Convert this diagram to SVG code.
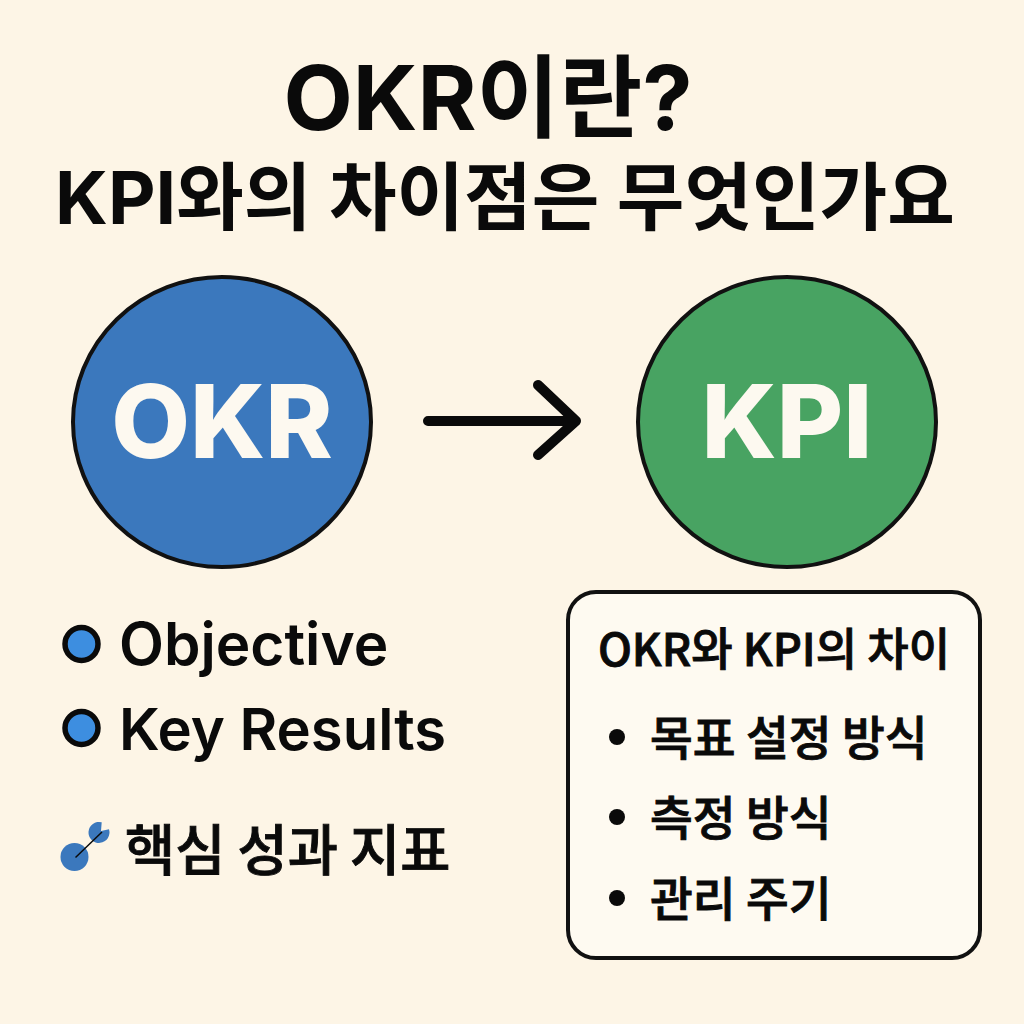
<svg xmlns="http://www.w3.org/2000/svg" width="1024" height="1024" viewBox="0 0 1024 1024">
<style>
text{font-family:"Inter","Noto Sans CJK KR",sans-serif;fill:#0a0a0a;font-weight:600}
.t{font-weight:700;text-anchor:middle}
.c{font-weight:800;text-anchor:middle;fill:#fdf9f0}
.b{fill:#3d8ee0;stroke:#0a0a0a;stroke-width:5.5}
.k{font-family:"Noto Sans CJK KR",sans-serif;font-weight:500;stroke:#0a0a0a;stroke-width:.9}
.i{fill:#3b78bd}
</style>
<rect width="1024" height="1024" fill="#fdf5e6"/>
<g id="title">
<text class="t" x="488" y="130" font-size="90">OKR이란?</text>
<text class="t" x="505" y="224" font-size="73.5">KPI와의 차이점은 무엇인가요</text>
</g>
<g id="okr"><ellipse cx="222" cy="422" rx="149" ry="145" fill="#3b78bd" stroke="#111" stroke-width="4"/><text class="c" x="222" y="458" font-size="102">OKR</text></g>
<g id="kpi"><ellipse cx="787" cy="422" rx="149" ry="145" fill="#48a362" stroke="#111" stroke-width="4"/><text class="c" x="787" y="458" font-size="102">KPI</text></g>
<g id="connectors"><path d="M428 421H574M538 385L576 421L538 455" fill="none" stroke="#0a0a0a" stroke-width="10" stroke-linecap="round" stroke-linejoin="round"/></g>
<g id="list">
<circle class="b" cx="81.5" cy="644" r="16.5"/><text x="119" y="665" font-size="58.5">Objective</text>
<circle class="b" cx="81.5" cy="728" r="16.5"/><text x="119" y="750" font-size="58">Key Results</text>
</g>
<g id="metric">
<circle class="i" cx="74.5" cy="857" r="14"/><path class="i" d="M101.7 822.3L101 831L109 829.3A10.5 10.5 0 1 1 101.7 822.3Z"/><path d="M75.500 857.500L102 832" stroke="#0a0a0a" stroke-width="1.500"/>
<text class="k" x="125" y="870" font-size="54.500">핵심 성과 지표</text>
</g>
<g id="box">
<rect x="568" y="592" width="412" height="366" rx="28" fill="#fefaf1" stroke="#111" stroke-width="4"/>
<text class="k" x="774" y="666" font-size="45" text-anchor="middle">OKR와 KPI의 차이</text>
<circle cx="617" cy="737" r="8" fill="#0a0a0a"/><text class="k" x="650" y="755" font-size="46.500">목표 설정 방식</text>
<circle cx="617" cy="817" r="8" fill="#0a0a0a"/><text class="k" x="650" y="835" font-size="46.500">측정 방식</text>
<circle cx="617" cy="898" r="8" fill="#0a0a0a"/><text class="k" x="650" y="916" font-size="46.500">관리 주기</text>
</g>
</svg>
